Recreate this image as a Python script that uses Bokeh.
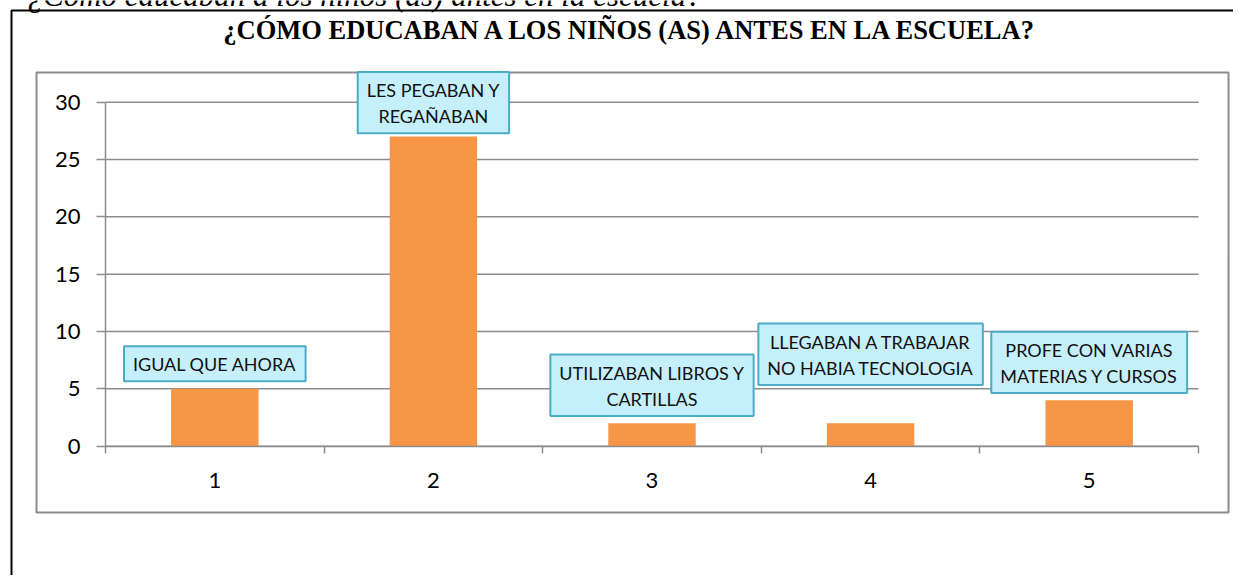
from bokeh.plotting import figure
from bokeh.models import Range1d, FixedTicker, Label, BoxAnnotation, LinearAxis
from bokeh.embed import file_html
from bokeh.resources import INLINE

# ---- data ----
categories = [1, 2, 3, 4, 5]
values = [5, 27, 2, 2, 4]
x_tick_labels = ["1", "2", "3", "4", "5"]
y_ticks = [0, 5, 10, 15, 20, 25, 30]
bar_labels = [
    "IGUAL QUE AHORA",
    "LES PEGABAN Y\nREGAÑABAN",
    "UTILIZABAN LIBROS Y\nCARTILLAS",
    "LLEGABAN A TRABAJAR\nNO HABIA TECNOLOGIA",
    "PROFE CON VARIAS\nMATERIAS Y CURSOS",
]
title_text = "¿CÓMO EDUCABAN A LOS NIÑOS (AS) ANTES EN LA ESCUELA?"
caption_text = "¿Cómo educaban a los niños (as) antes en la escuela?"

# ---- style / layout (pixel geometry of the picture) ----
W, H = 1233, 575
PLOT_L, PLOT_R = 105, 1198     # px of x = 0.5 and x = 5.5
Y0_PX, YTOP_PX = 445.7, 101.7  # px of y = 0 and y = 30
X_LO, X_HI = 0.5, 5.5
Y_LO, Y_HI = 0, 30
GRAY = "#8c8c8c"
BAR = "#F79646"
label_offsets = [25, 34, 38, 69, 38]  # px above bar top (callout centers)

x_per = (PLOT_R - PLOT_L) / (X_HI - X_LO)
x_start = X_LO - PLOT_L / x_per
x_end = x_start + W / x_per
y_per = (Y0_PX - YTOP_PX) / (Y_HI - Y_LO)
y_end = Y_HI + YTOP_PX / y_per
y_start = Y_LO - (H - Y0_PX) / y_per

p = figure(width=W, height=H, output_backend="svg", toolbar_location=None,
           x_range=Range1d(x_start, x_end), y_range=Range1d(y_start, y_end),
           x_axis_location=None, y_axis_location=None,
           min_border=0, min_border_left=0, min_border_right=0,
           min_border_top=0, min_border_bottom=0)
p.title.visible = False
p.outline_line_color = None
p.background_fill_color = "white"
p.border_fill_color = "white"
p.grid.visible = False

# frames
p.add_layout(BoxAnnotation(left=11, right=3000, top=10, bottom=3000,
                           left_units="canvas", right_units="canvas",
                           top_units="canvas", bottom_units="canvas",
                           fill_alpha=0, line_color="black", line_alpha=1, line_width=2,
                           level="underlay"))
p.add_layout(BoxAnnotation(left=36, right=1228, top=72, bottom=512,
                           left_units="canvas", right_units="canvas",
                           top_units="canvas", bottom_units="canvas",
                           fill_alpha=0, line_color=GRAY, line_alpha=1, line_width=2,
                           level="underlay"))

# horizontal gridlines
p.segment(x0=[X_LO] * len(y_ticks), x1=[X_HI] * len(y_ticks), y0=y_ticks, y1=y_ticks,
          line_color=GRAY, line_width=1.5)

# bars
p.vbar(x=categories, top=values, width=0.4, fill_color=BAR, line_color=None)

# axes
xaxis = LinearAxis(fixed_location=Y_LO, bounds=(X_LO, X_HI),
                   ticker=FixedTicker(ticks=categories,
                                      minor_ticks=[c - 0.5 for c in categories] + [categories[-1] + 0.5]))
xaxis.major_label_overrides = {c: t for c, t in zip(categories, x_tick_labels)}
xaxis.major_tick_line_color = None
xaxis.major_tick_out = 0
xaxis.major_tick_in = 0
xaxis.minor_tick_out = 7
xaxis.minor_tick_in = 0
xaxis.minor_tick_line_color = GRAY
xaxis.minor_tick_line_width = 1.5
xaxis.axis_line_color = GRAY
xaxis.axis_line_width = 1.5
xaxis.major_label_standoff = 20
xaxis.major_label_text_font = "Lato"
xaxis.major_label_text_font_size = "22px"
xaxis.major_label_text_color = "black"
p.add_layout(xaxis, "below")

yaxis = LinearAxis(fixed_location=X_LO, bounds=(Y_LO, Y_HI),
                   ticker=FixedTicker(ticks=y_ticks, minor_ticks=[]))
yaxis.major_tick_out = 9
yaxis.major_tick_in = 0
yaxis.major_tick_line_color = GRAY
yaxis.major_tick_line_width = 1.5
yaxis.minor_tick_line_color = None
yaxis.axis_line_color = GRAY
yaxis.axis_line_width = 1.5
yaxis.major_label_standoff = 16
yaxis.major_label_text_font = "Lato"
yaxis.major_label_text_font_size = "22px"
yaxis.major_label_text_color = "black"
p.add_layout(yaxis, "left")

# callout labels
for c, v, txt, off in zip(categories, values, bar_labels, label_offsets):
    common = dict(x=c, y=v, text=txt, text_align="center", text_baseline="middle",
                  text_font="Lato", text_font_size="18px", text_line_height=1.2,
                  padding=dict(left=9, right=9, top=7, bottom=6))
    p.add_layout(Label(x_offset=3, y_offset=off - 3, text_alpha=0,
                       background_fill_color="black", background_fill_alpha=0.18,
                       **common))
    p.add_layout(Label(x_offset=0, y_offset=off, text_color="#111111",
                       background_fill_color="#C6EFFC",
                       border_line_color="#4BACC6", border_line_width=2,
                       **common))

# titles
p.add_layout(Label(x=631, y=29.5, x_units="canvas", y_units="canvas", text=title_text,
                   text_align="center", text_baseline="middle",
                   text_font="Liberation Serif", text_font_style="bold",
                   text_font_size="26.5px", text_color="black"))
p.add_layout(Label(x=27, y=-5.5, x_units="canvas", y_units="canvas", text=caption_text,
                   text_align="left", text_baseline="middle",
                   text_font="Liberation Serif", text_font_style="italic",
                   text_font_size="31px", text_color="black"))

open("out.html", "w").write(file_html(p, INLINE))
